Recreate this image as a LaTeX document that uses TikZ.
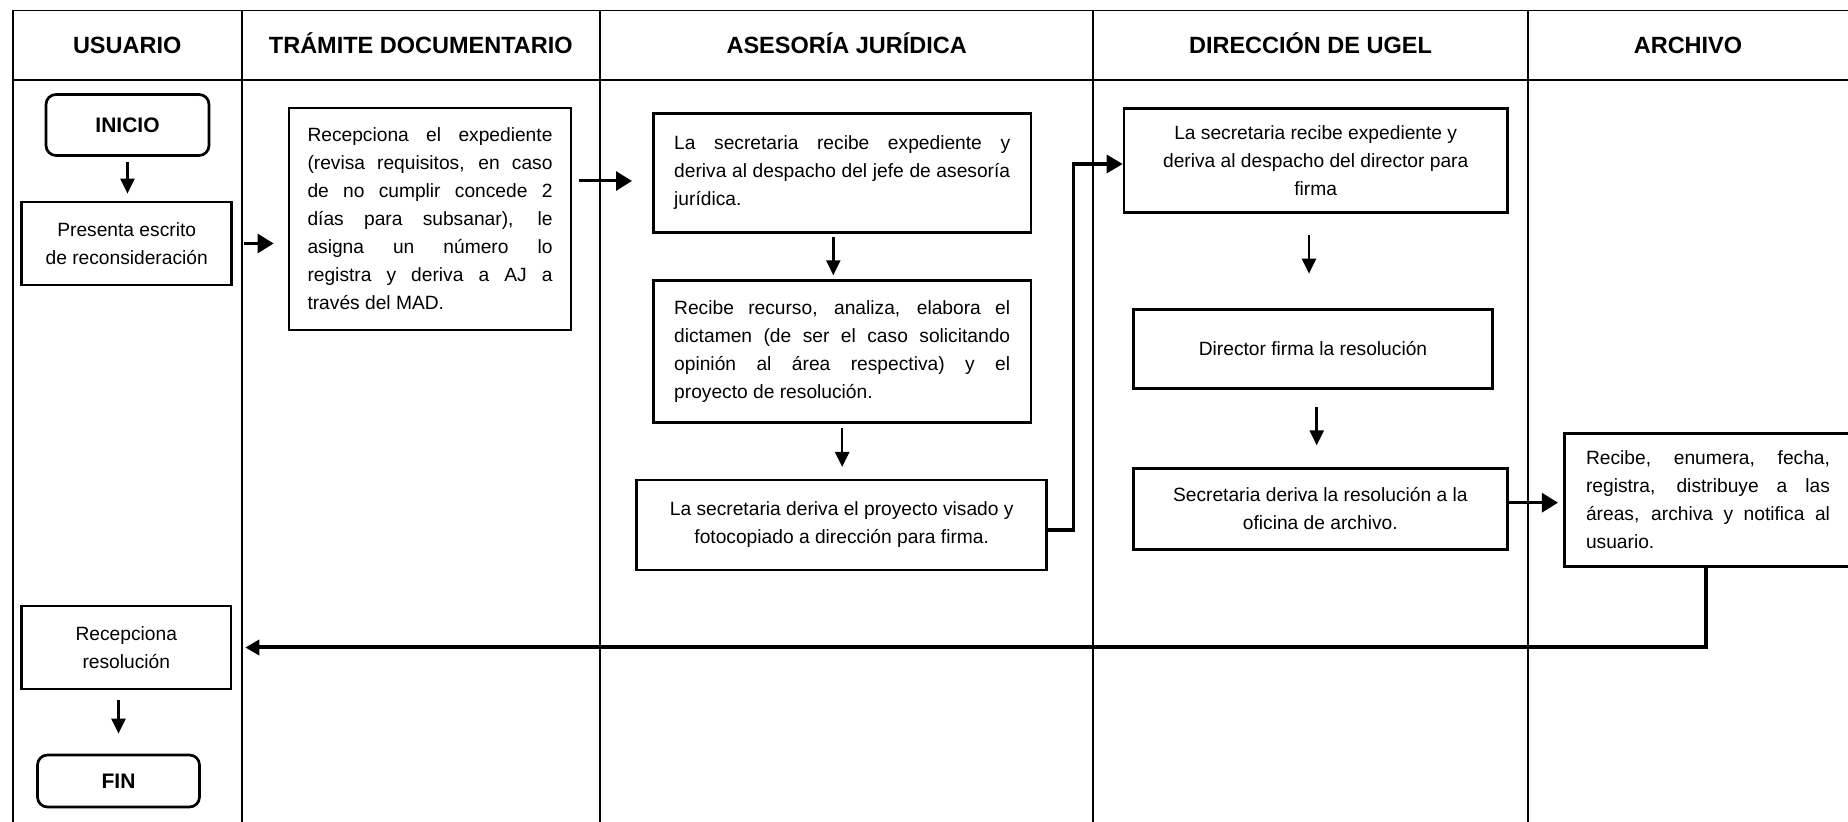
\documentclass[tikz,border=0pt]{standalone}
\usepackage{fontspec}
\setmainfont{Liberation Sans}
\usetikzlibrary{arrows.meta,calc}
\newcommand\bodyf{\fontsize{9.6pt}{14pt}\selectfont}
\newcommand\hdrf{\fontsize{11.75pt}{14pt}\selectfont\bfseries}
\newcommand\termf{\fontsize{10.5pt}{13pt}\selectfont\bfseries}
\begin{document}
\begin{tikzpicture}[x=0.5pt,y=-0.5pt,
  tbl/.style={line width=0.85pt},
  hdr/.style={font=\hdrf, inner sep=0pt, anchor=base},
  box/.style={draw, line width=1.35pt, inner sep=0pt, font=\bodyf},
  term/.style={box, rounded corners=5pt, font=\termf},
  downarr/.style={line width=1.25pt, -{Triangle[length=7.5pt,width=7pt]}},
  sidearr/.style={line width=1.5pt, -{Triangle[length=8pt,width=9.5pt]}},
  conn/.style={line width=1.6pt, -{Triangle[length=8pt,width=9pt]}},
  retarr/.style={line width=2pt, -{Triangle[length=7pt,width=7.5pt]}}]
\useasboundingbox (0,0) rectangle (1848,822);

% table
\draw[tbl] (12.7,822) -- (12.7,10.5) -- (1848,10.5);
\draw[tbl] (12.7,80) -- (1848,80);
\foreach \x in {241.7,600,1093.3,1527.7} \draw[tbl] (\x,10.5) -- (\x,822);

% headers
\node[hdr] (h1) at (127.2,54) {USUARIO};
\node[hdr] (h2) at (420.8,54) {TRÁMITE DOCUMENTARIO};
\node[hdr] (h3) at (846.7,54) {ASESORÍA JURÍDICA};
\node[hdr] (h4) at (1310.5,54) {DIRECCIÓN DE UGEL};
\node[hdr] (h5) at (1688,54) {ARCHIVO};

% nodes
\node[term, minimum width=81.5pt, minimum height=30.5pt] (inicio) at (127.5,125) {INICIO};
\node[box, minimum width=105pt, minimum height=41.5pt, align=center] (presenta) at (126.7,243.5) {Presenta escrito\\de reconsideración};
\node[box, minimum width=141pt, minimum height=111pt, text width=122.5pt, align=justify] (tramite) at (430,219)
  {Recepciona el expediente\linebreak (revisa requisitos, en caso\linebreak de no cumplir concede 2\linebreak días para subsanar), le\linebreak asigna un número lo\linebreak registra y deriva a AJ a\linebreak través del MAD.};
\node[box, minimum width=188.85pt, minimum height=59.5pt, text width=168pt, align=justify] (aj1) at (842.2,172.8)
  {La secretaria recibe expediente y\linebreak deriva al despacho del jefe de asesoría\linebreak jurídica.};
\node[box, minimum width=188.85pt, minimum height=70.85pt, text width=168pt, align=justify] (aj2) at (842.2,351.5)
  {Recibe recurso, analiza, elabora el\linebreak dictamen (de ser el caso solicitando\linebreak opinión al área respectiva) y el\linebreak proyecto de resolución.};
\node[box, minimum width=205pt, minimum height=45pt, align=center] (aj3) at (841.7,525)
  {La secretaria deriva el proyecto visado y\\fotocopiado a dirección para firma.};
\node[box, minimum width=191.65pt, minimum height=52.15pt, align=center] (dir1) at (1315.7,160.5)
  {La secretaria recibe expediente y\\deriva al despacho del director para\\firma};
\node[box, minimum width=179.65pt, minimum height=39.5pt, align=center] (dir2) at (1313,348.8)
  {Director firma la resolución};
\node[box, minimum width=187pt, minimum height=40.5pt, align=center] (dir3) at (1320.3,508.8)
  {Secretaria deriva la resolución a la\\oficina de archivo.};
\node[box, minimum width=143.7pt, minimum height=66.7pt, text width=122pt, align=justify] (arch) at (1708,500)
  {Recibe, enumera, fecha,\linebreak registra, distribuye a las\linebreak áreas, archiva y notifica al\linebreak usuario.};
\node[box, minimum width=104.65pt, minimum height=41.5pt, align=center] (recep) at (126.3,647.5)
  {Recepciona\\resolución};
\node[term, minimum width=81pt, minimum height=26pt] (fin) at (118.5,781) {FIN};

% helper coordinates
\coordinate (y3) at (0,181);
\coordinate (x4) at (833.3,0);
\coordinate (x6) at (1073.3,0);
\coordinate (s6) at ($(aj3.east)+(0,5)$);
\coordinate (e6) at ($(dir1.west)+(0,3.5)$);
\coordinate (x7) at (1309,0);
\coordinate (x8) at (1316.7,0);
\coordinate (y9) at (0,502.7);
\coordinate (x10) at (1706,0);

% connectors
\draw[downarr, shorten <=2.5pt, shorten >=3.5pt] (inicio.south) -- (inicio.south |- presenta.north);
\draw[sidearr, shorten <=5.5pt, shorten >=7pt] (presenta.east) -- (presenta.east -| tramite.west);
\draw[sidearr, shorten <=3.5pt, shorten >=10pt] (tramite.east |- y3) -- (aj1.west |- y3);
\draw[downarr, shorten <=1.7pt, shorten >=2pt] (x4 |- aj1.south) -- (x4 |- aj2.north);
\draw[downarr, shorten <=2.35pt, shorten >=5.85pt] (aj2.south) -- (aj2.south |- aj3.north);
\draw[conn] (s6) -- (x6 |- s6) -- (x6 |- e6) -- (e6);
\draw[downarr, shorten <=10.65pt, shorten >=17.15pt] (x7 |- dir1.south) -- (x7 |- dir2.north);
\draw[downarr, shorten <=8.85pt, shorten >=10.8pt] (x8 |- dir2.south) -- (x8 |- dir3.north);
\draw[sidearr, shorten >=2.5pt] (dir3.east |- y9) -- (arch.west |- y9);
\draw[retarr, shorten >=6.5pt] (x10 |- arch.south) -- (x10 |- recep.east) -- (recep.east);
\draw[downarr, shorten <=5pt, shorten >=10pt] (fin.north |- recep.south) -- (fin.north);
\end{tikzpicture}
\end{document}
